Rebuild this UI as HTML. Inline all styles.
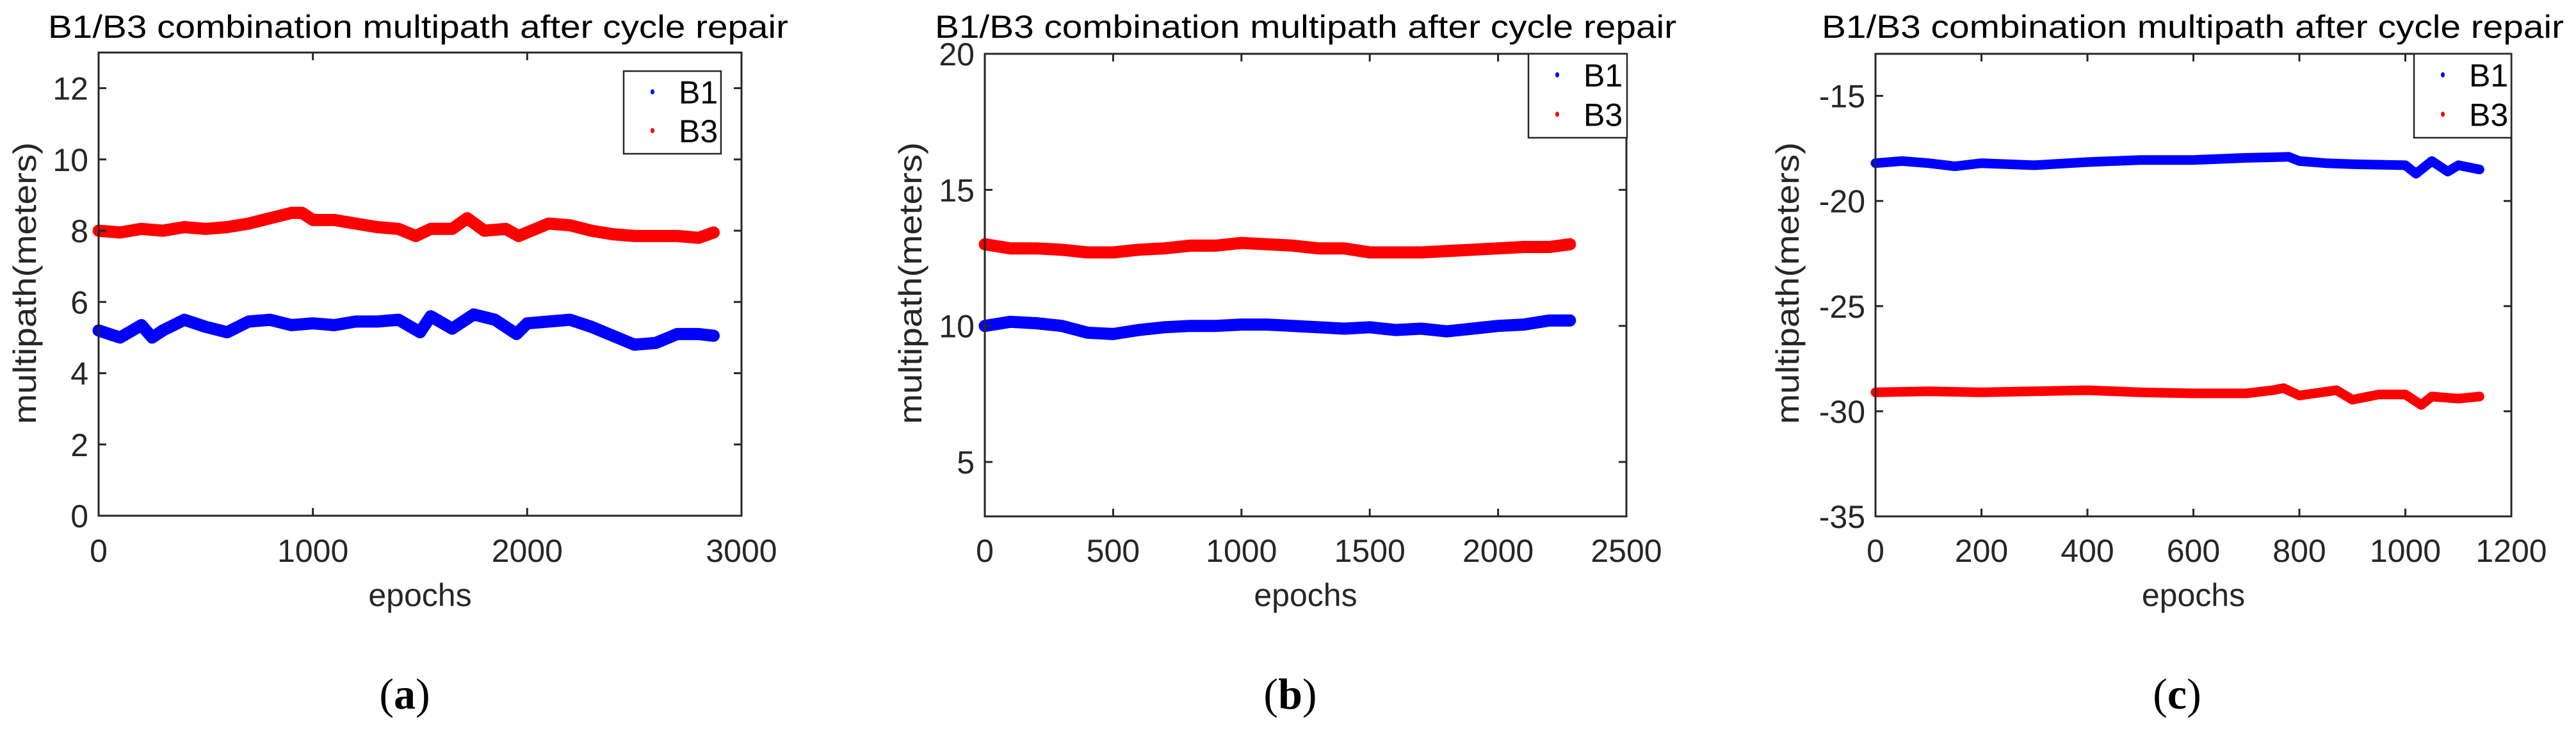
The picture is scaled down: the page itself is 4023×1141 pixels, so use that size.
<!DOCTYPE html>
<html><head><meta charset="utf-8"><style>
html,body{margin:0;padding:0;background:#fff;}
svg{display:block;font-family:"Liberation Sans",sans-serif;}
</style></head><body>
<svg id="fig" width="4023" height="1141" viewBox="0 0 4023 1141"></svg>
<script>
// ---- Panel (a) data ----
const aEpochs = [0,100,200,250,300,400,500,600,700,800,900,1000,1100,1200,1300,1400,1500,1550,1650,1750,1850,1950,2000,2100,2200,2300,2400,2500,2600,2700,2800,2870];
const aB1 = [5.2,5.0,5.35,5.0,5.2,5.5,5.3,5.15,5.45,5.5,5.35,5.4,5.35,5.45,5.45,5.5,5.15,5.6,5.25,5.65,5.5,5.1,5.4,5.45,5.5,5.3,5.05,4.8,4.85,5.1,5.1,5.05];
const aEpochs3 = [0,100,200,300,400,500,600,700,800,900,950,1000,1100,1200,1300,1400,1480,1550,1650,1720,1800,1900,1960,2100,2200,2300,2400,2500,2600,2700,2800,2870];
const aB3 = [8.0,7.95,8.05,8.0,8.1,8.05,8.1,8.2,8.35,8.5,8.5,8.3,8.3,8.2,8.1,8.05,7.85,8.05,8.05,8.35,8.0,8.05,7.85,8.2,8.15,8.0,7.9,7.85,7.85,7.85,7.8,7.95];
const aXTicks = [0,1000,2000,3000];
const aYTicks = [0,2,4,6,8,10,12];
// ---- Panel (b) data ----
const bEpochs = [0,100,200,300,400,500,600,700,800,900,1000,1100,1200,1300,1400,1500,1600,1700,1800,1900,2000,2100,2200,2280];
const bB1 = [10.0,10.15,10.1,10.0,9.75,9.7,9.85,9.95,10.0,10.0,10.05,10.05,10.0,9.95,9.9,9.95,9.85,9.9,9.8,9.9,10.0,10.05,10.2,10.2];
const bB3 = [13.0,12.85,12.85,12.8,12.7,12.7,12.8,12.85,12.95,12.95,13.05,13.0,12.95,12.85,12.85,12.7,12.7,12.7,12.75,12.8,12.85,12.9,12.9,13.0];
const bXTicks = [0,500,1000,1500,2000,2500];
const bYTicks = [5,10,15,20];
// ---- Panel (c) data ----
const cEpochs1 = [0,50,100,150,200,300,400,500,600,700,780,800,850,900,1000,1020,1050,1080,1100,1140];
const cB1 = [-18.2,-18.1,-18.2,-18.35,-18.2,-18.3,-18.15,-18.05,-18.05,-17.95,-17.9,-18.1,-18.2,-18.25,-18.3,-18.7,-18.1,-18.6,-18.3,-18.5];
const cEpochs3 = [0,100,200,300,400,500,600,700,750,770,800,870,900,950,1000,1030,1050,1100,1140];
const cB3 = [-29.1,-29.05,-29.1,-29.05,-29.0,-29.1,-29.15,-29.15,-29.0,-28.9,-29.25,-29.0,-29.45,-29.2,-29.2,-29.7,-29.3,-29.4,-29.3];
const cXTicks = [0,200,400,600,800,1000,1200];
const cYTicks = [-35,-30,-25,-20,-15];

const NS='http://www.w3.org/2000/svg';
const svg=document.getElementById('fig');
function mk(tag,attrs,parent){const e=document.createElementNS(NS,tag);for(const k in attrs)e.setAttribute(k,attrs[k]);(parent||svg).appendChild(e);return e;}

const panels=[
 {id:'a',L:154,R:1158,T:82,B:805,x0:0,x1:3000,y0:0,y1:13,xt:aXTicks,yt:aYTicks,
  s1x:aEpochs,s1:aB1,s3x:aEpochs3,s3:aB3,sw:19,
  title:[75,1231],ylab:38,leg:[974,1126,111,240],cap:632},
 {id:'b',L:1538,R:2540,T:84,B:806,x0:0,x1:2500,y0:3,y1:20,xt:bXTicks,yt:bYTicks,
  s1x:bEpochs,s1:bB1,s3x:bEpochs,s3:bB3,sw:19,
  title:[1460,2618],ylab:1421,leg:[2387,2541,84,215],cap:2015},
 {id:'c',L:2929,R:3922,T:84,B:806,x0:0,x1:1200,y0:-35,y1:-13,xt:cXTicks,yt:cYTicks,
  s1x:cEpochs1,s1:cB1,s3x:cEpochs3,s3:cB3,sw:15,
  title:[2845,4004],ylab:2791,leg:[3770,3922,84,215],cap:3400}
];

panels.forEach(p=>{
  const g=mk('g',{});
  
  
  const sx=v=>p.L+(v-p.x0)/(p.x1-p.x0)*(p.R-p.L);
  const sy=v=>p.B-(v-p.y0)/(p.y1-p.y0)*(p.B-p.T);
  const t=mk('text',{x:p.title[0],y:59,'font-size':50,fill:'#000',textLength:p.title[1]-p.title[0],lengthAdjust:'spacingAndGlyphs'},g);
  t.textContent='B1/B3 combination multipath after cycle repair';
  
  
  const line=(xs,ys,col,name)=>{
    const pts=xs.map((x,i)=>sx(x).toFixed(1)+','+sy(ys[i]).toFixed(1)).join(' ');
    const pl=mk('polyline',{points:pts,fill:'none',stroke:col,'stroke-width':p.sw,'stroke-linejoin':'round','stroke-linecap':'round'},g);
    
    
  };
  line(p.s3x,p.s3,'#ff0000','series-b3');
  line(p.s1x,p.s1,'#0000ff','series-b1');
  const box=mk('rect',{x:p.L,y:p.T,width:p.R-p.L,height:p.B-p.T,fill:'none',stroke:'#262626','stroke-width':3},g);
  
  
  p.xt.forEach(v=>{
    const X=sx(v);
    mk('line',{x1:X,y1:p.B,x2:X,y2:p.B-12,stroke:'#262626','stroke-width':3},g);
    mk('line',{x1:X,y1:p.T,x2:X,y2:p.T+12,stroke:'#262626','stroke-width':3},g);
    const tl=mk('text',{x:X,y:877,'font-size':50,fill:'#262626','text-anchor':'middle'},g);
    tl.textContent=v;
    
    
  });
  p.yt.forEach(v=>{
    const Y=sy(v);
    mk('line',{x1:p.L,y1:Y,x2:p.L+12,y2:Y,stroke:'#262626','stroke-width':3},g);
    mk('line',{x1:p.R,y1:Y,x2:p.R-12,y2:Y,stroke:'#262626','stroke-width':3},g);
    const tl=mk('text',{x:p.L-16,y:Y+18,'font-size':50,fill:'#262626','text-anchor':'end'},g);
    tl.textContent=v;
    
    
  });
  const xl=mk('text',{x:(p.L+p.R)/2,y:946,'font-size':50,fill:'#262626','text-anchor':'middle'},g);
  xl.textContent='epochs';
  
  
  const yc=442;
  const yl=mk('text',{x:p.ylab,y:yc,'font-size':50,fill:'#262626','text-anchor':'middle',transform:`rotate(-90 ${p.ylab} ${yc}) translate(0 18)`,textLength:440,lengthAdjust:'spacingAndGlyphs'},g);
  yl.textContent='multipath(meters)';
  
  
  const [lx0,lx1,ly0,ly1]=p.leg;
  const lg=mk('g',{},g);
  
  
  mk('rect',{x:lx0,y:ly0,width:lx1-lx0,height:ly1-ly0,fill:'#fff',stroke:'#262626','stroke-width':2.5},lg);
  const ry1=ly0+(ly1-ly0)*0.25, ry3=ly0+(ly1-ly0)*0.72;
  [[ry1,'#0000ff','B1'],[ry3,'#ff0000','B3']].forEach(([yy,col,lab])=>{
    const e=mk('g',{},lg);
    
    
    mk('ellipse',{cx:lx0+45,cy:yy,rx:3,ry:4,fill:col},e);
    const tx=mk('text',{x:lx0+86,y:yy+18,'font-size':50,fill:'#000'},e);
    tx.textContent=lab;
  });
  const cp=mk('text',{x:p.cap,y:1106,'font-size':68,'font-family':'"Liberation Serif",serif','text-anchor':'middle',fill:'#000'},g);
  cp.innerHTML='(<tspan font-weight="bold">'+p.id+'</tspan>)';
  
  
});
</script>
</body></html>
